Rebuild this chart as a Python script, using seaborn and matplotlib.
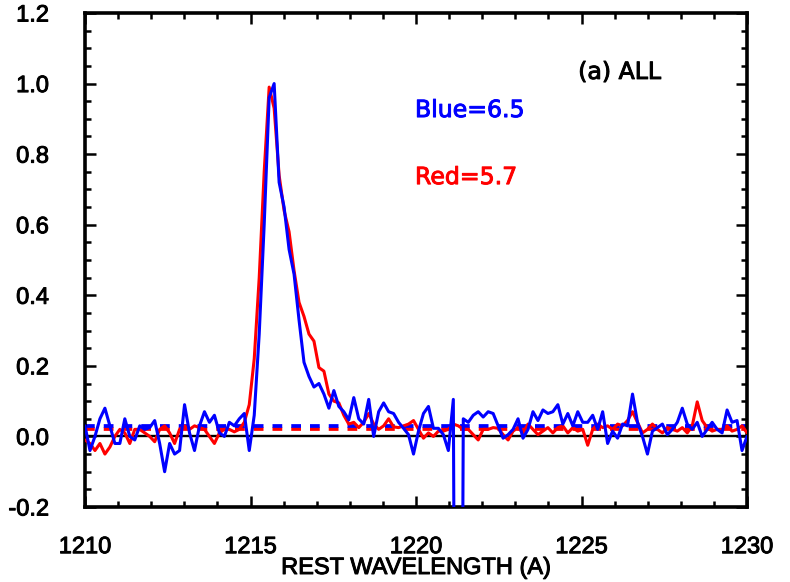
import numpy as np
import pandas as pd
import matplotlib
matplotlib.use("Agg")
import matplotlib.pyplot as plt
import matplotlib.patheffects as pe
import seaborn as sns
from matplotlib.ticker import MultipleLocator, FormatStrFormatter

# ---- data ----
wave_start = 1210.0
wave_end = 1230.0
n_pix = 134
wavelength = np.linspace(wave_start, wave_end, n_pix)

blue_flux = [
    0.03, -0.04, 0.00, 0.05, 0.08, 0.03, -0.02, -0.02, 0.05, 0.00,
    -0.01, 0.03, 0.02, 0.025, 0.045, -0.02, -0.10, -0.02, -0.05, -0.04,
    0.09, 0.01, -0.04, 0.03, 0.07, 0.04, 0.06, 0.01, 0.00, 0.04,
    0.03, 0.05, 0.065, -0.04, 0.06, 0.29, 0.60, 0.96, 1.00, 0.72,
    0.65, 0.53, 0.46, 0.33, 0.21, 0.17, 0.14, 0.15, 0.12, 0.08,
    0.13, 0.085, 0.07, 0.047, 0.11, 0.05, 0.035, 0.105, 0.00, 0.07,
    0.095, 0.07, 0.065, 0.04, 0.023, 0.005, -0.05, 0.015, 0.065, 0.085,
    0.023, 0.023, 0.005, -0.04, 0.105, -3.0, 0.05, 0.04, 0.06, 0.07,
    0.055, 0.07, 0.065, 0.03, -0.005, 0.005, 0.02, 0.05, -0.005, 0.02,
    0.07, 0.045, 0.075, 0.065, 0.07, 0.09, 0.035, 0.065, 0.03, 0.07,
    0.04, 0.04, 0.06, 0.02, 0.07, -0.02, 0.015, -0.005, 0.035, 0.03,
    0.12, 0.04, 0.00, -0.05, 0.015, 0.025, 0.035, 0.005, 0.02, 0.04,
    0.08, 0.035, 0.02, 0.04, 0.00, 0.02, 0.04, 0.02, 0.01, 0.075,
    0.04, 0.045, -0.04, 0.00,
]

red_flux = [
    -0.01, -0.02, -0.04, -0.02, -0.05, -0.03, 0.00, 0.02, 0.01, -0.02,
    0.02, 0.02, 0.01, 0.00, -0.015, 0.02, 0.03, 0.01, -0.02, 0.02,
    0.03, 0.02, 0.03, 0.025, 0.02, 0.00, -0.02, 0.01, 0.02, 0.02,
    0.013, 0.02, 0.04, 0.09, 0.22, 0.45, 0.75, 0.99, 0.93, 0.74,
    0.64, 0.58, 0.47, 0.38, 0.34, 0.29, 0.27, 0.195, 0.185, 0.12,
    0.10, 0.095, 0.06, 0.035, 0.04, 0.025, 0.04, 0.065, 0.035, 0.02,
    0.03, 0.05, 0.027, 0.025, 0.03, 0.035, 0.045, 0.02, -0.005, 0.01,
    0.00, 0.015, 0.015, 0.02, 0.035, 0.03, 0.02, 0.02, 0.005, -0.01,
    0.02, 0.02, 0.025, 0.023, 0.005, -0.01, 0.015, 0.025, 0.01, 0.035,
    0.02, 0.005, 0.015, 0.025, 0.01, 0.025, 0.03, 0.01, 0.025, 0.015,
    0.02, -0.025, 0.02, 0.035, 0.025, 0.03, 0.02, 0.035, 0.03, 0.045,
    0.07, 0.04, 0.01, 0.02, 0.035, 0.02, 0.01, 0.025, 0.02, 0.015,
    0.025, 0.01, 0.03, 0.098, 0.045, 0.025, 0.015, 0.02, 0.02, 0.03,
    0.015, 0.02, 0.03, 0.01,
]

blue_continuum = 0.029
red_continuum = 0.021

x_range = [1210, 1230]
y_range = [-0.2, 1.2]
x_label = "REST WAVELENGTH (A)"
panel_label = "(a) ALL"
blue_label = "Blue=6.5"
red_label = "Red=5.7"

# ---- plotting ----
sns.set_style("ticks")
plt.rcParams["font.family"] = ["Liberation Sans", "DejaVu Sans"]
plt.rcParams["text.color"] = "black"
plt.rcParams["axes.labelcolor"] = "black"
plt.rcParams["xtick.color"] = "black"
plt.rcParams["ytick.color"] = "black"

df = pd.DataFrame({"wave": wavelength, "blue": blue_flux, "red": red_flux})

fig = plt.figure(figsize=(7.9, 5.82), dpi=100)
ax = fig.add_axes([85 / 790, 75 / 582, 662 / 790, 494 / 582])

ax.axhline(0.0, color="black", lw=1.7, zorder=1)
dash = (0, (2.6, 2.4))
ax.axhline(red_continuum, color="#ff0000", lw=2.7, ls=dash, zorder=2)
ax.axhline(blue_continuum, color="#0000ff", lw=2.7, ls=dash, zorder=2)

sns.lineplot(data=df, x="wave", y="red", color="#ff0000", lw=2.2, ax=ax,
             zorder=3, estimator=None, sort=False)
sns.lineplot(data=df, x="wave", y="blue", color="#0000ff", lw=2.2, ax=ax,
             zorder=4, estimator=None, sort=False)

ax.set_xlim(*x_range)
ax.set_ylim(*y_range)
ax.xaxis.set_major_locator(MultipleLocator(5))
ax.xaxis.set_minor_locator(MultipleLocator(1))
ax.yaxis.set_major_locator(MultipleLocator(0.2))
ax.yaxis.set_minor_locator(MultipleLocator(0.05))
ax.yaxis.set_major_formatter(FormatStrFormatter("%.1f"))
ax.xaxis.set_major_formatter(FormatStrFormatter("%d"))

ax.tick_params(which="both", direction="in", top=True, right=True,
               width=1.8, colors="black", labelcolor="black", labelsize=17)
ax.tick_params(which="major", length=8)
ax.tick_params(which="minor", length=4)
ax.tick_params(axis="y", which="major", pad=26)
ax.tick_params(axis="x", which="major", pad=21)
for s in ax.spines.values():
    s.set_linewidth(2.6)
    s.set_color("black")

ax.set_xlabel(x_label, fontsize=17, color="black")
ax.xaxis.set_label_coords(0.5, (507 - 568) / 494)
ax.xaxis.label.set_va("center")
ax.set_ylabel("")

t1 = ax.text(1224.9, 1.033, panel_label, color="black", fontsize=17,
             va="center", ha="left", family=["DejaVu Sans"])
t2 = ax.text(1219.97, 0.925, blue_label, color="#0000ff", fontsize=17,
             va="center", ha="left", family=["DejaVu Sans"])
t3 = ax.text(1219.97, 0.735, red_label, color="#ff0000", fontsize=17,
             va="center", ha="left", family=["DejaVu Sans"])

# slightly heavier strokes, like the thick plotting font of the original
def thicken(txt, col):
    txt.set_path_effects([pe.withStroke(linewidth=0.7, foreground=col)])

for t, c in [(t1, "black"), (t2, "#0000ff"), (t3, "#ff0000")]:
    thicken(t, c)
thicken(ax.xaxis.label, "black")
for lab in ax.get_xticklabels() + ax.get_yticklabels():
    thicken(lab, "black")

fig.savefig("out.png", dpi=100, facecolor="white")
